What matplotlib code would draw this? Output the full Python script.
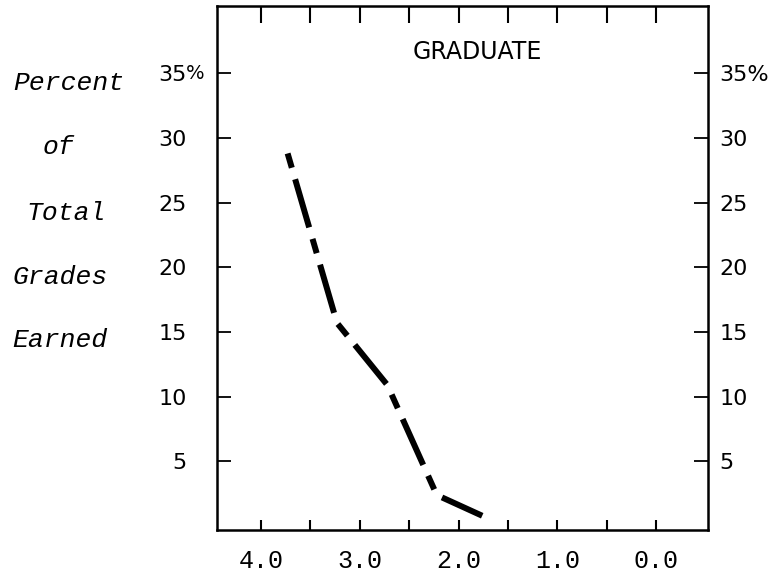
import matplotlib
matplotlib.use("Agg")
from matplotlib import pyplot as plt
import matplotlib.transforms as mtransforms

# grade point (x) vs percent of total grades earned (y)
grade_points = [3.73, 3.23, 2.72, 2.22, 1.76]
percent_graduate = [28.8, 15.7, 10.9, 2.4, 0.8]

x_ticks = [4.0, 3.5, 3.0, 2.5, 2.0, 1.5, 1.0, 0.5, 0.0]
x_tick_labels = ['4.0', '', '3.0', '', '2.0', '', '1.0', '', '0.0']
y_ticks = [5, 10, 15, 20, 25, 30, 35]
y_tick_labels_left = ['5', '10', '15', '20', '25', '30', '35']
y_tick_labels_right = ['5', '10', '15', '20', '25', '30', '35%']
side_words = ['Percent', 'of', 'Total', 'Grades', 'Earned']

fig = plt.figure(figsize=(7.82, 5.81), dpi=100)
ax = fig.add_axes([0.2775, 0.0878, 0.628, 0.902])

ax.plot(grade_points, percent_graduate, color='black', linewidth=4.3,
        linestyle=(0, (2.5, 2.0, 8.4, 2.0)), solid_capstyle='round')

ax.set_xlim(4.445, -0.527)
ax.set_ylim(-0.3, 40.2)

for s in ax.spines.values():
    s.set_linewidth(1.8)

# x axis: typewriter labels below, short inward ticks at the bottom
ax.set_xticks(x_ticks)
ax.set_xticklabels(x_tick_labels, family='Liberation Mono', fontsize=18)
ax.tick_params(axis='x', direction='in', top=False, bottom=True,
               length=7, width=1.5, pad=14)

# longer inward ticks along the top edge
top = ax.secondary_xaxis('top')
top.set_xticks(x_ticks)
top.set_xticklabels([])
top.tick_params(direction='in', length=12, width=1.5)
top.spines['top'].set_visible(False)

# y axis: labels both sides, inward ticks
ax.set_yticks(y_ticks)
ax.set_yticklabels(y_tick_labels_left, family='DejaVu Sans', fontsize=16)
ax.tick_params(axis='y', direction='in', left=True, right=True,
               length=10, width=1.3, pad=22)

ax2 = ax.twinx()
ax2.set_ylim(ax.get_ylim())
ax2.set_yticks(y_ticks)
ax2.set_yticklabels(y_tick_labels_right, family='DejaVu Sans', fontsize=16)
ax2.tick_params(axis='y', direction='in', length=10, width=1.3, pad=8)
for s in ax2.spines.values():
    s.set_visible(False)

# percent sign hanging after the left 35
trans = mtransforms.blended_transform_factory(ax.transAxes, ax.transData)
ax.text(-0.063, 35, '%', transform=trans, ha='left', va='center',
        family='DejaVu Sans', fontsize=14)

ax.text(0.53, 0.912, 'GRADUATE', transform=ax.transAxes, ha='center',
        va='center', family='DejaVu Sans', fontsize=17)

# stacked side caption
word_pos = [(69, 83), (58, 147), (66, 213), (60, 277), (60, 340)]
for word, (px, py) in zip(side_words, word_pos):
    fig.text(px / 782, 1 - py / 581, word, ha='center', va='center',
             family='Liberation Mono', style='italic', fontsize=19)

plt.savefig('out.png', dpi=100)
